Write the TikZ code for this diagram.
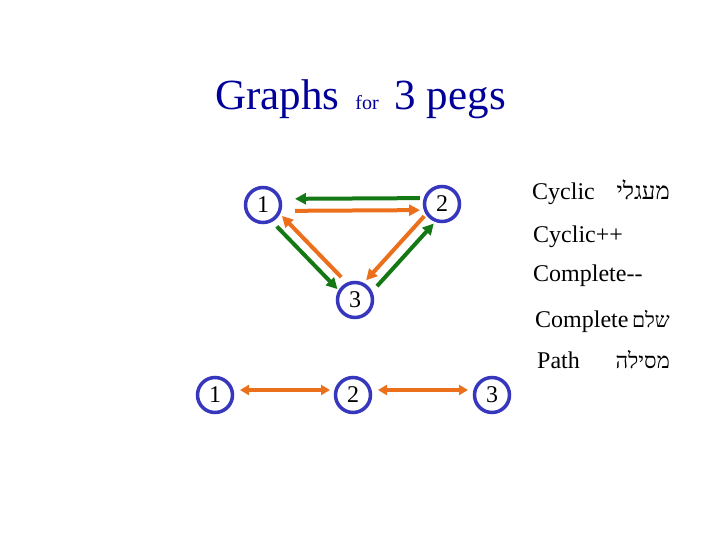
\documentclass[tikz,border=0pt]{standalone}
\usepackage{fontspec}
\setmainfont{Liberation Serif}
\newfontfamily\heb[Script=Hebrew]{Liberation Serif}
\TeXXeTstate=1
\usetikzlibrary{calc,arrows.meta}
\definecolor{pegblue}{RGB}{55,55,190}
\definecolor{titleblue}{RGB}{0,0,153}
\definecolor{grn}{RGB}{20,120,20}
\definecolor{org}{RGB}{236,112,28}
\begin{document}
\begin{tikzpicture}[x=1pt,y=-1pt,
  peg/.style={circle,draw=pegblue,line width=3.5pt,minimum size=35pt,inner sep=0pt,font=\fontsize{24}{24}\selectfont},
  garr/.style={draw=grn,line width=4pt,-{Triangle[length=11pt,width=11pt]}},
  oarr/.style={draw=org,line width=4pt,-{Triangle[length=11pt,width=11pt]}},
  obi/.style={draw=org,line width=3.5pt,{Triangle[length=9pt,width=10pt]}-{Triangle[length=9pt,width=10pt]}},
  lbl/.style={font=\fontsize{24}{24}\selectfont,inner sep=0pt}]
\useasboundingbox[fill=white] (0,0) rectangle (720,540);
% title
\node[anchor=base west,inner sep=0pt,text=titleblue,font=\fontsize{43}{43}\selectfont] (title) at (215,110)
  {Graphs\hspace{16pt}{\fontsize{20}{20}\selectfont for}\hspace{16pt}3 pegs};
% triangle graph
\node[peg] (n1) at (263,205) {1};
\node[peg] (n2) at (442,204) {2};
\node[peg] (n3) at (355,300) {3};
\draw[garr] ($(n2)!22pt!(n1)!6pt!-90:(n1)$) -- ($(n1)!32pt!(n2)!6pt!90:(n2)$);
\draw[oarr] ($(n1)!32pt!(n2)!6pt!-90:(n2)$) -- ($(n2)!22pt!(n1)!6pt!90:(n1)$);
\draw[garr] ($(n1)!25pt!(n3)!5pt!-90:(n3)$) -- ($(n3)!20pt!(n1)!5pt!90:(n1)$);
\draw[oarr] ($(n3)!26pt!(n1)!6pt!-90:(n1)$) -- ($(n1)!21pt!(n3)!6pt!90:(n3)$);
\draw[oarr] ($(n2)!21pt!(n3)!5pt!-90:(n3)$) -- ($(n3)!22pt!(n2)!5pt!90:(n2)$);
\draw[garr] ($(n3)!25pt!(n2)!7pt!-90:(n2)$) -- ($(n2)!20pt!(n3)!7pt!90:(n3)$);
% path graph
\node[peg] (b1) at (215,395) {1};
\node[peg] (b2) at (353,395) {2};
\node[peg] (b3) at (492,395) {3};
\draw[obi] ($(b1)!25pt!(b2)!5pt!90:(b2)$) -- ($(b2)!23pt!(b1)!5pt!-90:(b1)$);
\draw[obi] ($(b2)!25pt!(b3)!5pt!90:(b3)$) -- ($(b3)!24pt!(b2)!5pt!-90:(b2)$);
% labels
\node[lbl,anchor=base west] (l1) at (532,200) {Cyclic};
\node[lbl,anchor=base east] (h1) at (670,200) {\heb\beginR מעגלי\endR};
\node[lbl,anchor=base west] (l2) at (533,243) {Cyclic++};
\node[lbl,anchor=base west] (l3) at (533,281) {Complete-{}-};
\node[lbl,anchor=base west] (l4) at (535,327) {Complete};
\node[lbl,anchor=base east,font=\fontsize{21}{21}\selectfont] (h4) at (670,327) {\heb\beginR שלם\endR};
\node[lbl,anchor=base west] (l5) at (537,368) {Path};
\node[lbl,anchor=base east,font=\fontsize{22}{22}\selectfont] (h5) at (670,368) {\heb\beginR מסילה\endR};
\end{tikzpicture}
\end{document}
